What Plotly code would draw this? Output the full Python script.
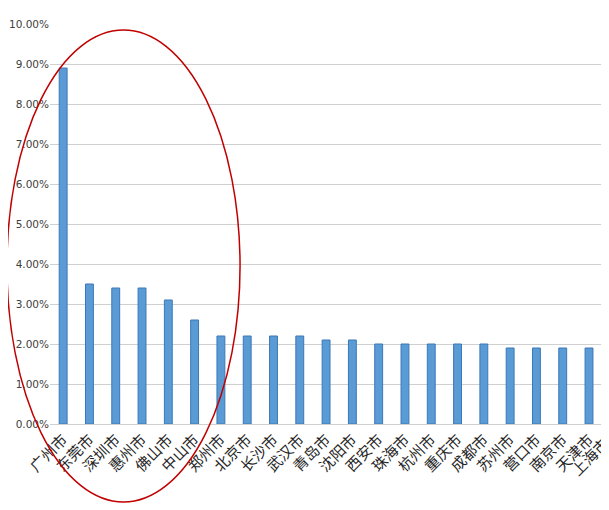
import plotly.graph_objects as go

cities = ["广州市", "东莞市", "深圳市", "惠州市", "佛山市", "中山市", "郑州市", "北京市",
          "长沙市", "武汉市", "青岛市", "沈阳市", "西安市", "珠海市", "杭州市", "重庆市",
          "成都市", "苏州市", "营口市", "南京市", "天津市", "上海市"]
shares = [0.089, 0.035, 0.034, 0.034, 0.031, 0.026, 0.022, 0.022,
          0.022, 0.022, 0.021, 0.021, 0.020, 0.020, 0.020, 0.020,
          0.020, 0.019, 0.019, 0.019, 0.019, 0.019]
y_ticks = [i / 100 for i in range(0, 11)]

x_lo, x_hi = -0.5, 20.76

fig = go.Figure()
fig.add_trace(go.Bar(
    x=list(range(len(cities))), y=shares, width=0.3,
    marker=dict(color="#5B9BD5", line=dict(color="#3A78B8", width=1)),
))

# label of the last (clipped) category, placed where its tick would be
last = len(cities) - 1
fig.add_annotation(
    xref="paper", yref="paper",
    x=(last - x_lo) / (x_hi - x_lo), y=0,
    text=cities[last], textangle=-45, showarrow=False,
    xanchor="right", yanchor="top", yshift=-6,
    font=dict(size=15, color="#262626", family="Noto Sans CJK SC"),
)

# red hand-drawn ellipse (paper coordinates so it is not clipped)
fig.add_shape(type="circle", xref="paper", yref="paper",
              x0=-0.077, x1=0.340, y0=-0.195, y1=0.985,
              line=dict(color="#C00000", width=1.5), layer="above")

fig.update_layout(
    width=601, height=502,
    margin=dict(l=42, r=0, t=16, b=86, autoexpand=False),
    plot_bgcolor="white", paper_bgcolor="white",
    showlegend=False,
    font=dict(family="Noto Sans CJK SC", color="#404040"),
    xaxis=dict(
        tickmode="array", tickvals=list(range(len(cities))), ticktext=cities,
        range=[x_lo, x_hi], tickangle=-45, showgrid=False,
        tickfont=dict(size=15, color="#262626"),
        showline=True, linecolor="#d0d0d0", zeroline=False, automargin=False,
    ),
    yaxis=dict(
        range=[0, 0.1], tickvals=y_ticks, tickformat=".2%",
        gridcolor="#d0d0d0", gridwidth=1, zeroline=False,
        tickfont=dict(size=10.5, family="Verdana, DejaVu Sans", color="#404040"),
        ticks="", showline=False, automargin=False,
    ),
)

fig.write_html("out.html")
